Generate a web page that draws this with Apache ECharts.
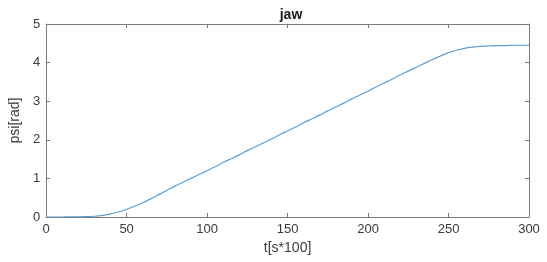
<!DOCTYPE html>
<html>
<head>
<meta charset="utf-8">
<script src="https://cdn.jsdelivr.net/npm/echarts@6/dist/echarts.min.js"></script>
<style>html,body{margin:0;padding:0;background:#fff}#c{width:547px;height:262px}</style>
</head>
<body>
<div id="c"></div>
<script>
const tValues = [0,5,10,15,20,25,30,35,40,45,50,55,60,65,70,75,80,85,90,95,100,105,110,115,120,125,130,135,140,145,150,155,160,165,170,175,180,185,190,195,200,205,210,215,220,225,230,235,240,245,250,255,260,265,270,275,280,285,290,295,300];
const psiValues = [0,0,0,0.002,0.005,0.01,0.02,0.04,0.08,0.13,0.2,0.28,0.37,0.47,0.58,0.69,0.8,0.9,1.0,1.1,1.2,1.3,1.41,1.51,1.61,1.72,1.82,1.92,2.02,2.13,2.23,2.33,2.44,2.54,2.64,2.75,2.85,2.95,3.06,3.16,3.26,3.37,3.47,3.57,3.68,3.78,3.88,3.98,4.08,4.17,4.26,4.32,4.37,4.40,4.42,4.43,4.44,4.44,4.45,4.45,4.45];
const xTicks = [0,50,100,150,200,250,300];
const yTicks = [0,1,2,3,4,5];
const titleText = 'jaw';
const xName = 't[s*100]';
const yName = 'psi[rad]';

const font = 'Liberation Sans, Arial, Helvetica, sans-serif';
const axisCol = '#7a7a7a';
const labCol = '#3a3a3a';
const chart = echarts.init(document.getElementById('c'));
const baseX = {type:'value', min:0, max:300, interval:50,
  splitLine:{show:false},
  axisLine:{show:true,onZero:false,lineStyle:{color:axisCol,width:1}},
  axisTick:{show:true,inside:true,length:4,lineStyle:{color:axisCol}}};
const baseY = {type:'value', min:0, max:5, interval:1,
  splitLine:{show:false},
  axisLine:{show:true,onZero:false,lineStyle:{color:axisCol,width:1}},
  axisTick:{show:true,inside:true,length:4,lineStyle:{color:axisCol}}};
chart.setOption({
  animation:false,
  title:{text:titleText,left:286,top:3,textAlign:'center',
    textStyle:{fontFamily:font,fontSize:14,fontWeight:'bold',color:'#1a1a1a'}},
  grid:{left:43,right:18,top:24,bottom:45,containLabel:false},
  xAxis:[
    Object.assign({},baseX,{position:'bottom',name:xName,nameLocation:'middle',nameGap:15,
      nameTextStyle:{fontFamily:font,fontSize:14,color:labCol},
      axisLabel:{margin:6,fontFamily:font,fontSize:13,color:labCol,
        formatter:v=>xTicks.includes(v)?String(v):''}}),
    Object.assign({},baseX,{position:'top',axisLabel:{show:false}})
  ],
  yAxis:[
    Object.assign({},baseY,{position:'left',name:yName,nameLocation:'middle',nameGap:13,
      nameTextStyle:{fontFamily:font,fontSize:14,color:labCol},
      axisLabel:{margin:6,fontFamily:font,fontSize:13,color:labCol,
        formatter:v=>yTicks.includes(v)?String(v):''}}),
    Object.assign({},baseY,{position:'right',axisLabel:{show:false}})
  ],
  series:[{type:'line',xAxisIndex:0,yAxisIndex:0,showSymbol:false,smooth:0.3,
    data:tValues.map((t,i)=>[t,psiValues[i]]),
    lineStyle:{color:'#5a9fd6',width:1.2}}]
});
</script>
</body>
</html>
